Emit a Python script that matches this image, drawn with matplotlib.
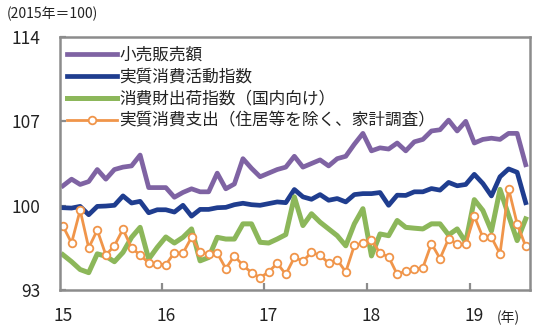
import numpy as np
import matplotlib.pyplot as plt

plt.rcParams['font.family'] = ['Noto Sans CJK JP', 'DejaVu Sans']

# monthly indices, 2015/01 - 2019/07 (2015 = 100)
retail = [101.65, 102.2, 101.76, 102.0, 103.0, 102.2, 103.0, 103.2, 103.3, 104.2,
          101.5, 101.5, 101.5, 100.7, 101.1, 101.4, 101.15, 101.15, 102.7, 101.4,
          101.8, 103.9, 103.1, 102.4, 102.7, 103.0, 103.2, 104.1, 103.2, 103.5,
          103.8, 103.3, 103.9, 104.1, 105.1, 106.0, 104.55, 104.8, 104.7, 105.2,
          104.55, 105.3, 105.5, 106.2, 106.3, 107.1, 106.2, 107.0, 105.2, 105.5,
          105.6, 105.5, 106.0, 106.0, 103.4]
activity = [99.83, 99.8, 99.94, 99.25, 99.94, 99.97, 100.03, 100.81, 100.22, 100.36,
            99.41, 99.66, 99.66, 99.47, 100.03, 99.13, 99.69, 99.69, 99.83, 99.86,
            100.08, 100.2, 100.08, 100.03, 100.17, 100.31, 100.25, 101.34, 100.73, 100.53,
            100.92, 100.45, 100.59, 100.31, 100.92, 101.0, 101.0, 101.09, 100.03, 100.87,
            100.85, 101.15, 101.15, 101.42, 101.29, 101.93, 101.65, 101.76, 102.6, 101.84,
            100.81, 102.4, 103.05, 102.77, 100.25]
shipments = [95.92, 95.35, 94.7, 94.44, 96.0, 95.8, 95.35, 96.12, 97.37, 98.2,
             95.56, 96.54, 97.4, 96.9, 97.37, 98.07, 95.42, 95.7, 97.37, 97.23,
             97.23, 98.49, 98.49, 96.96, 96.9, 97.23, 97.6, 100.73, 98.35, 99.33,
             98.63, 98.07, 97.51, 96.67, 98.49, 99.75, 95.83, 97.65, 97.51, 98.77,
             98.2, 98.13, 98.07, 98.49, 98.49, 97.57, 98.07, 96.96, 100.5, 99.6,
             97.9, 101.35, 99.2, 97.1, 98.9]
spending = [98.3, 96.9, 99.63, 96.5, 97.97, 95.9, 96.67, 98.05, 96.5, 95.9,
            95.25, 95.15, 95.1, 96.1, 96.06, 97.37, 96.17, 95.98, 96.06, 94.78,
            95.83, 95.05, 94.44, 94.02, 94.5, 95.22, 94.3, 95.7, 95.4, 96.12,
            95.89, 95.22, 95.5, 94.5, 96.7, 96.9, 97.18, 96.05, 95.75, 94.3,
            94.58, 94.72, 94.86, 96.85, 95.61, 97.25, 96.81, 96.81, 99.13, 97.37,
            97.37, 96.0, 101.42, 98.49, 96.62]

year_labels = ['15', '16', '17', '18', '19']
y_ticks = [93, 100, 107, 114]

months = np.arange(len(retail))

fig = plt.figure(figsize=(5.35, 3.32), dpi=100)
ax = fig.add_axes([60 / 535, 42 / 332, 470 / 535, 253 / 332])

ax.plot(months, retail, color='#7f63a3', lw=3.4, label='小売販売額')
ax.plot(months, activity, color='#1f3d8f', lw=3.4, label='実質消費活動指数')
ax.plot(months, shipments, color='#8cb75a', lw=3.6, label='消費財出荷指数（国内向け）')
ax.plot(months, spending, color='#f0954a', lw=2.0, marker='o', ms=5.5,
        mfc='white', mec='#f0954a', mew=1.3,
        label='実質消費支出（住居等を除く、家計調査）')

ax.set_xlim(-0.35, 54.5)
ax.set_ylim(93, 114)
ax.set_yticks(y_ticks)
ax.set_yticklabels([str(v) for v in y_ticks])

# year boundaries get the tick marks, year labels sit on January
ax.set_xticks([11.5, 23.5, 35.5, 47.5])
ax.set_xticklabels([])
ax.set_xticks([0, 12, 24, 36, 48], minor=True)
ax.set_xticklabels(year_labels, minor=True)
ax.tick_params(axis='x', which='major', direction='in', length=5, width=1.6, color='#8c8c8c')
ax.tick_params(axis='x', which='minor', length=0, pad=12, labelsize=12.5, labelcolor='#222222')
ax.tick_params(axis='y', direction='in', length=4, width=1.6, color='#8c8c8c',
               pad=14, labelsize=12.5, labelcolor='#222222')

for side in ax.spines.values():
    side.set_color('#8c8c8c')
    side.set_linewidth(1.8)

leg = ax.legend(loc='upper left', bbox_to_anchor=(0.015, 0.963), frameon=False,
                fontsize=12, handlelength=3.0, handletextpad=0.15,
                borderpad=0, borderaxespad=0, labelspacing=0.3, numpoints=1)
for t in leg.get_texts():
    t.set_color('#222222')

fig.text(7 / 535, 1 - 14 / 332, '(2015年＝100)', fontsize=10, va='center', ha='left', color='#222222')
fig.text(508 / 535, 1 - 318 / 332, '(年)', fontsize=10, va='center', ha='center', color='#222222')

fig.savefig('out.png', dpi=100)
